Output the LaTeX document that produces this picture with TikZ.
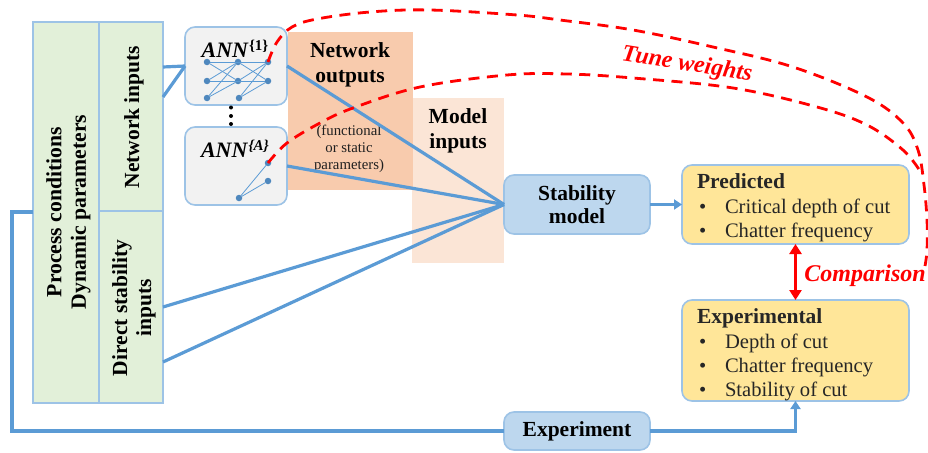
\documentclass[tikz,border=0pt]{standalone}
\usepackage{fontspec}
\setmainfont{Liberation Serif}
\usetikzlibrary{arrows.meta}
\definecolor{bl}{HTML}{5B9BD5}
\definecolor{bdr}{HTML}{9DC3E6}
\definecolor{stab}{HTML}{BDD7EE}
\definecolor{yel}{HTML}{FFE699}
\definecolor{grn}{HTML}{E2F0D9}
\definecolor{org}{HTML}{F8CBAD}
\definecolor{lorg}{HTML}{FBE5D6}
\definecolor{gry}{HTML}{F2F2F2}
\definecolor{dnode}{HTML}{4F88BE}
\definecolor{txt}{HTML}{262626}
\tikzset{
 plain/.style={inner sep=0pt,outer sep=0pt,text=txt},
 green box/.style={plain,draw=bdr,fill=grn,line width=1.6pt},
 block/.style={plain,draw=bdr,rounded corners=10pt,line width=1.6pt},
 shade box/.style={plain,align=center,font=\bfseries\fontsize{21.5}{25}\selectfont,text=black},
 ann/.style={block,fill=gry,minimum width=102pt,minimum height=78pt},
 stabbox/.style={block,fill=stab,minimum width=146pt,align=center,font=\bfseries\fontsize{21.5}{23}\selectfont,text=black},
 yelbox/.style={block,fill=yel,minimum width=227pt},
 yeltext/.style={plain,align=left,anchor=west,font=\fontsize{20.6}{24.4}\selectfont},
 neuron/.style={circle,fill=dnode,minimum size=6.5pt,inner sep=0pt,outer sep=0pt},
 syn/.style={draw=bl,line width=0.8pt},
 link/.style={draw=bl,line width=3.2pt},
 flow/.style={draw=bl,line width=3.2pt,-{Triangle[length=8pt,width=10pt]}},
 redc/.style={draw=red,line width=2.8pt,dash pattern=on 11pt off 7.5pt},
 redlab/.style={plain,text=red,font=\bfseries\itshape\fontsize{24}{26}\selectfont},
 annlab/.style={plain,text=black,font=\bfseries\itshape\fontsize{22}{24}\selectfont},
 rottext/.style={plain,rotate=90,align=center,text=black,font=\bfseries\fontsize{21.5}{24}\selectfont},
}
\newcommand{\itm}[1]{\makebox[28pt][l]{\hspace{2pt}\textbullet}#1}
\begin{document}
\begin{tikzpicture}[x=1pt,y=-1pt]
\useasboundingbox (0,0) rectangle (928,452);
% shaded bands
\node[plain,fill=lorg,minimum width=92pt,minimum height=165pt] (minp) at (458,180.5) {};
\node[plain,fill=org,minimum width=125pt,minimum height=158pt] (nout) at (350.5,111) {};
\node[shade box] (noutt) at (350,65) {Network\\outputs};
\node[plain,align=center,font=\fontsize{14.8}{17}\selectfont,text=txt!85!black] (fn) at (349,149) {(functional\\or static\\parameters)};
\node[shade box] (minpt) at (458,131) {Model\\inputs};
% left column
\node[green box,minimum width=66pt,minimum height=381pt] (proc) at (66,212.5) {};
\node[green box,minimum width=64pt,minimum height=189pt] (net) at (131,116.5) {};
\node[green box,minimum width=64pt,minimum height=192pt] (dir) at (131,307) {};
\node[rottext,font=\bfseries\fontsize{21.7}{24.5}\selectfont] (proct) at (68.5,212) {Process conditions\\Dynamic parameters};
\node[rottext] (nett) at (134,117) {Network inputs};
\node[rottext] (dirt) at (134,308) {Direct stability\\inputs};
% ANN boxes
\node[ann] (a1) at (236,66) {};
\node[ann] (a2) at (236,166) {};
\node[annlab] (a1t) at (235,49) {ANN\kern1pt\raisebox{7pt}{\fontsize{15}{15}\selectfont\upshape\{1\}}};
\node[annlab] (a2t) at (235,149) {ANN\kern1pt\raisebox{7pt}{\fontsize{15}{15}\selectfont\{A\}}};
\fill[black] (231,107.5) circle (2pt) (231,116) circle (2pt) (231,124) circle (2pt);
% small networks
\foreach \n/\x/\y in {p1/207/62,p2/238/62,p3/268/62,q1/207/81,q2/238/81,q3/268/81,r1/207/98,r2/239/98}
  \node[neuron] (\n) at (\x,\y) {};
\foreach \s/\t in {p1/p3,q1/q3,p1/q2,r1/p2,r1/q2,q1/p2,p2/q3,q2/p3,r2/p3,r2/q3}
  \draw[syn] (\s) -- (\t);
\node[neuron] (u1) at (268,163) {};
\node[neuron] (u2) at (268,181) {};
\node[neuron] (u3) at (239,198) {};
\draw[syn] (u3) -- (u1);
\draw[syn] (u3) -- (u2);
% main blocks
\node[stabbox,minimum height=59pt] (stab) at (577,204.5) {Stability\\model};
\node[stabbox,minimum height=38pt] (exp) at (577,431) {\raisebox{-2pt}{Experiment}};
\node[yelbox,minimum height=79pt] (pred) at (795.5,204.5) {};
\node[yelbox,minimum height=101pt] (expr) at (795.5,350.5) {};
\node[yeltext] (predt) at (697,208) {{\bfseries\fontsize{21.5}{24.4}\selectfont Predicted}\\\itm{Critical depth of cut}\\\itm{Chatter frequency}};
\node[yeltext] (exprt) at (697,355) {{\bfseries\fontsize{21.5}{24.4}\selectfont Experimental}\\\itm{Depth of cut}\\\itm{Chatter frequency}\\\itm{Stability of cut}};
% connectors
\draw[link] (net.east |- 0,67) -- (a1.west);
\draw[link] (net.east |- 0,97) -- (a1.west);
\draw[link] (a1.east) -- (stab.west);
\draw[link] (a2.east) -- (stab.west);
\draw[link] (dir.east |- 0,307) -- (stab.west);
\draw[link] (dir.east |- 0,362) -- (stab.west);
\draw[flow] (stab.east) -- (pred.west |- stab.east);
\draw[flow] (exp.east) -| (expr.south);
\draw[link,line join=miter] (proc.west |- 0,212) -- (12,212) |- (exp.west);
\draw[draw=red,line width=3pt,{Triangle[length=10pt,width=12pt]}-{Triangle[length=10pt,width=12pt]}] (pred.south) -- (expr.north);
% red curves
\coordinate (e1) at (925,266);
\coordinate (e2) at (920,171);
\draw[redc] plot[smooth,tension=0.6] coordinates {(p3) (277,42) (292,27) (317,19) (370,12) (430,10) (517,15) (560,20) (633,30) (713,47) (793,67) (867,97) (903,123) (918,150) (924,185) (927,220) (927,250) (e1)};
\draw[redc] plot[smooth,tension=0.6] coordinates {(u1) (287,143) (320,123) (353,108) (420,87) (507,75) (567,74) (633,78) (733,88) (817,107) (867,125) (903,150) (e2)};
\node[redlab,rotate=-9] (tune) at (687,65) {Tune weights};
\node[redlab] (comp) at (865,275.5) {Comparison};
\end{tikzpicture}
\end{document}
